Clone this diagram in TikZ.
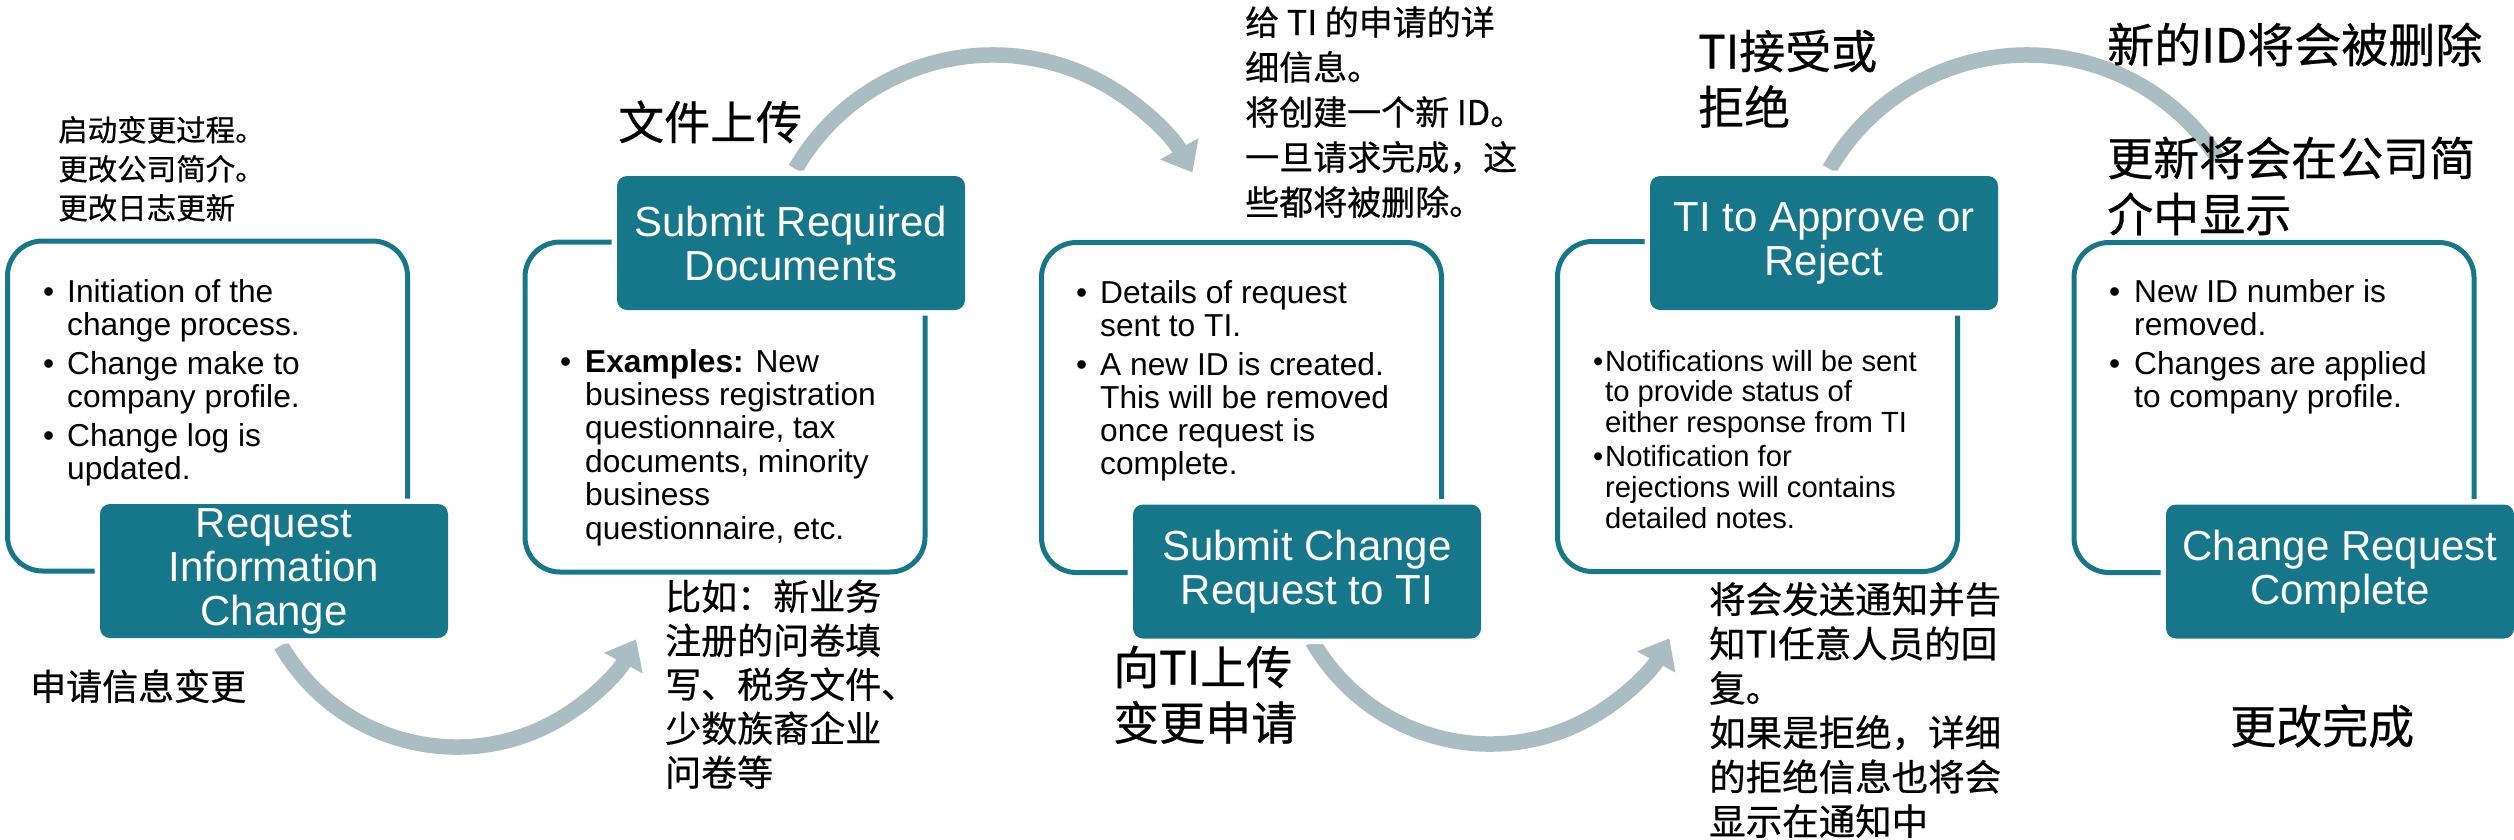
\documentclass[tikz,border=0pt]{standalone}
\usepackage{fontspec}
\setmainfont{Liberation Sans}
\newfontfamily\cjk[FakeBold=0.6]{Noto Sans CJK SC}
\usetikzlibrary{arrows.meta}
\definecolor{teal1}{HTML}{17778A}
\definecolor{flowgray}{HTML}{AABDC3}
\tikzset{
  outlinebox/.style={draw=teal1, line width=5pt, rounded corners=35pt, minimum width=400pt, minimum height=330pt, inner sep=0pt},
  titlebox/.style={fill=teal1, rounded corners=10pt, minimum width=348pt, minimum height=134pt, inner sep=0pt, text=white, align=center, font=\fontsize{42}{44}\selectfont, preaction={draw=white, line width=11pt}},
  bodytext/.style={anchor=base west, inner sep=0pt, font=\fontsize{31.7}{33}\selectfont},
  smalltext/.style={anchor=base west, inner sep=0pt, font=\fontsize{29.2}{30.6}\selectfont},
  cjktext/.style={anchor=base west, inner sep=0pt},
  flow/.style={draw=flowgray, line width=15.5pt, -{Triangle[width=42pt,length=27pt]}},
  flowend/.style={draw=flowgray, line width=15.5pt},
}
\begin{document}
\begin{tikzpicture}[x=1pt,y=-1pt]
\fill[white] (0,0) rectangle (2514,839);
\useasboundingbox (0,0) rectangle (2514,839);

% outline boxes
\node[outlinebox] (o1) at (207.5,406) {};
\node[outlinebox] (o2) at (725,407) {};
\node[outlinebox] (o3) at (1241.5,407.5) {};
\node[outlinebox] (o4) at (1757.5,406.5) {};
\node[outlinebox] (o5) at (2274,407.5) {};

% arc connectors
\coordinate (a1) at (281,645.5);
\coordinate (a2) at (795.5,169);
\coordinate (a3) at (1312.5,641.5);
\coordinate (a4) at (1829.5,169);
\draw[flow] (a1) arc[start angle=-150, end angle=-28, radius=203pt];
\draw[flow] (a2) arc[start angle=-210, end angle=-331, radius=228pt];
\draw[flow] (a3) arc[start angle=-150, end angle=-29, radius=205pt];
\draw[flowend] (a4) arc[start angle=-210, end angle=-327, radius=228pt];

% title boxes
\node[titlebox] (t1) at (274,571) {Request\\Information\\Change};
\node[titlebox] (t2) at (791,243) {Submit Required\\Documents};
\node[titlebox] (t3) at (1307,571.5) {Submit Change\\Request to TI};
\node[titlebox] (t4) at (1824,243) {TI to Approve or\\Reject};
\node[titlebox] (t5) at (2340,571.5) {Change Request\\Complete};

% body texts
\node[bodytext] (b1) at (43,302) {\begin{tabular}[t]{@{}p{24pt}@{}l@{}}\textbullet&Initiation of the\\&change process.\\[6pt]\textbullet&Change make to\\&company profile.\\[6pt]\textbullet&Change log is\\&updated.\end{tabular}};
\node[bodytext, font=\fontsize{31.7}{33.4}\selectfont] (b2) at (560,372) {\begin{tabular}[t]{@{}p{25pt}@{}l@{}}\textbullet&\textbf{Examples:} New\\&business registration\\&questionnaire, tax\\&documents, minority\\&business\\&questionnaire, etc.\end{tabular}};
\node[bodytext] (b3) at (1076,303) {\begin{tabular}[t]{@{}p{24pt}@{}l@{}}\textbullet&Details of request\\&sent to TI.\\[6pt]\textbullet&A new ID is created.\\&This will be removed\\&once request is\\&complete.\end{tabular}};
\node[smalltext] (b4) at (1593,371) {\begin{tabular}[t]{@{}p{12pt}@{}l@{}}\textbullet&Notifications will be sent\\&to provide status of\\&either response from TI\\[4pt]\textbullet&Notification for\\&rejections will contains\\&detailed notes.\end{tabular}};
\node[bodytext] (b5) at (2109,302) {\begin{tabular}[t]{@{}p{25pt}@{}l@{}}\textbullet&New ID number is\\&removed.\\[6pt]\textbullet&Changes are applied\\&to company profile.\end{tabular}};

% Chinese annotations
\node[cjktext, font={\cjk\fontsize{29.5}{39}\selectfont}] (c1) at (58,141) {\begin{tabular}[t]{@{}l@{}}启动变更过程。\\更改公司简介。\\更改日志更新\end{tabular}};
\node[cjktext, font={\cjk\fontsize{36}{44}\selectfont}] (c2) at (30,700) {申请信息变更};
\node[cjktext, font={\cjk\fontsize{46}{55}\selectfont}] (c3) at (618,139.5) {文件上传};
\node[cjktext, font={\cjk\fontsize{36}{44}\selectfont}] (c4) at (665,610) {\begin{tabular}[t]{@{}l@{}}比如：新业务\\注册的问卷填\\写、税务文件、\\少数族裔企业\\问卷等\end{tabular}};
\node[cjktext, font={\cjk\fontsize{34}{45}\selectfont}] (c5) at (1245,35) {\begin{tabular}[t]{@{}l@{}}给 TI 的申请的详\\细信息。\\将创建一个新 ID。\\一旦请求完成，这\\些都将被删除。\end{tabular}};
\node[cjktext, font={\cjk\fontsize{46}{55}\selectfont}] (c6) at (1113,684.5) {\begin{tabular}[t]{@{}l@{}}向TI上传\\变更申请\end{tabular}};
\node[cjktext, font={\cjk\fontsize{46}{56}\selectfont}] (c7) at (1698,68.5) {\begin{tabular}[t]{@{}l@{}}TI接受或\\拒绝\end{tabular}};
\node[cjktext, font={\cjk\fontsize{36.5}{44.4}\selectfont}] (c8) at (1709,613) {\begin{tabular}[t]{@{}l@{}}将会发送通知并告\\知TI任意人员的回\\复。\\如果是拒绝，详细\\的拒绝信息也将会\\显示在通知中\end{tabular}};
\node[cjktext, font={\cjk\fontsize{47}{55}\selectfont}] (c9) at (2107,62.5) {新的ID将会被删除};
\node[cjktext, font={\cjk\fontsize{46}{56}\selectfont}] (c10) at (2107,175.5) {\begin{tabular}[t]{@{}l@{}}更新将会在公司简\\介中显示\end{tabular}};
\node[cjktext, font={\cjk\fontsize{46}{55}\selectfont}] (c11) at (2230,743.5) {更改完成};
\end{tikzpicture}
\end{document}
